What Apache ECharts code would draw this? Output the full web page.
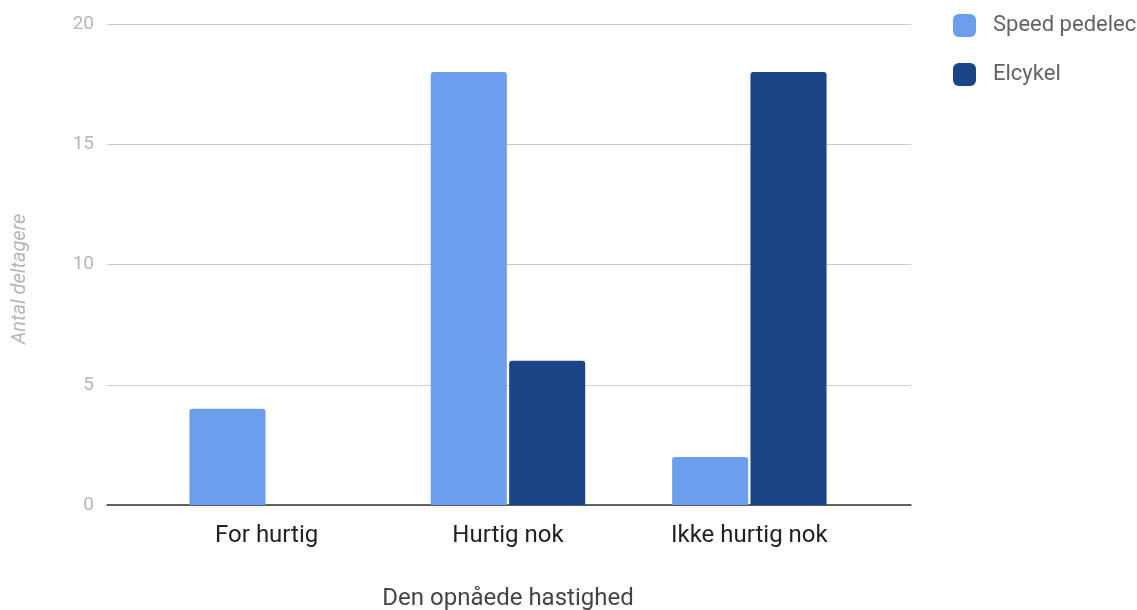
<!DOCTYPE html>
<html>
<head>
<meta charset="utf-8">
<script src="https://cdn.jsdelivr.net/npm/echarts@6/dist/echarts.min.js"></script>
<style>
  html, body { margin: 0; padding: 0; background: #fff; }
  #chart { width: 1137px; height: 610px; }
</style>
</head>
<body>
<div id="chart"></div>
<script>
// Survey answers: was the achieved speed fast enough?
const categories = ['For hurtig', 'Hurtig nok', 'Ikke hurtig nok'];
const speedPedelec = [4, 18, 2];
const elcykel = [0, 6, 18];
const yTicks = [0, 5, 10, 15, 20];

const FONT = 'Roboto, "Noto Sans", sans-serif';
const chart = echarts.init(document.getElementById('chart'));

chart.setOption({
  animation: false,
  textStyle: { fontFamily: FONT },
  legend: {
    orient: 'vertical',
    left: 953,
    top: 14,
    padding: 0,
    itemWidth: 23,
    itemHeight: 23,
    itemGap: 26,
    icon: 'roundRect',
    textStyle: { fontSize: 22, color: '#646464', fontFamily: FONT, padding: [0, 0, 0, 12] },
    data: ['Speed pedelec', 'Elcykel']
  },
  grid: [
    // wide grid: gridlines, y labels and baseline
    { left: 107, right: 226, top: 24, bottom: 105 },
    // inner grid holding the bars
    { left: 146, right: 267, top: 24, bottom: 105 }
  ],
  xAxis: [
    {
      gridIndex: 0, type: 'category', data: [''],
      axisLine: { show: true, lineStyle: { color: '#333333', width: 1.5 } },
      axisTick: { show: false }, axisLabel: { show: false }
    },
    {
      gridIndex: 1, type: 'category', data: categories,
      axisLine: { show: false }, axisTick: { show: false },
      axisLabel: { fontSize: 24, color: '#222222', margin: 19, fontFamily: FONT }
    }
  ],
  yAxis: [
    {
      gridIndex: 0, type: 'value', min: yTicks[0], max: yTicks[yTicks.length - 1], interval: 5,
      axisLine: { show: false }, axisTick: { show: false },
      axisLabel: { fontSize: 19, color: '#b5b5b5', margin: 13, fontFamily: FONT },
      splitLine: { lineStyle: { color: '#cccccc', width: 1 } }
    },
    {
      gridIndex: 1, type: 'value', min: yTicks[0], max: yTicks[yTicks.length - 1], interval: 5,
      axisLine: { show: false }, axisTick: { show: false },
      axisLabel: { show: false }, splitLine: { show: false }
    }
  ],
  graphic: [
    {
      type: 'text', x: 508, y: 599,
      style: {
        text: 'Den opnåede hastighed', fontSize: 24, fill: '#444444',
        fontFamily: FONT, textAlign: 'center', textVerticalAlign: 'middle'
      }
    },
    {
      type: 'text', x: 20, y: 279, rotation: Math.PI / 2,
      style: {
        text: 'Antal deltagere', fontSize: 20, fill: '#b5b5b5', fontStyle: 'italic',
        fontFamily: FONT, textAlign: 'center', textVerticalAlign: 'middle'
      }
    }
  ],
  series: [
    {
      name: 'Speed pedelec', type: 'bar', xAxisIndex: 1, yAxisIndex: 1,
      data: speedPedelec, barGap: '3%', barCategoryGap: '36%',
      itemStyle: { color: '#6d9eeb', borderRadius: [3, 3, 0, 0] }
    },
    {
      name: 'Elcykel', type: 'bar', xAxisIndex: 1, yAxisIndex: 1,
      data: elcykel,
      itemStyle: { color: '#1c4587', borderRadius: [3, 3, 0, 0] }
    }
  ]
});
</script>
</body>
</html>
